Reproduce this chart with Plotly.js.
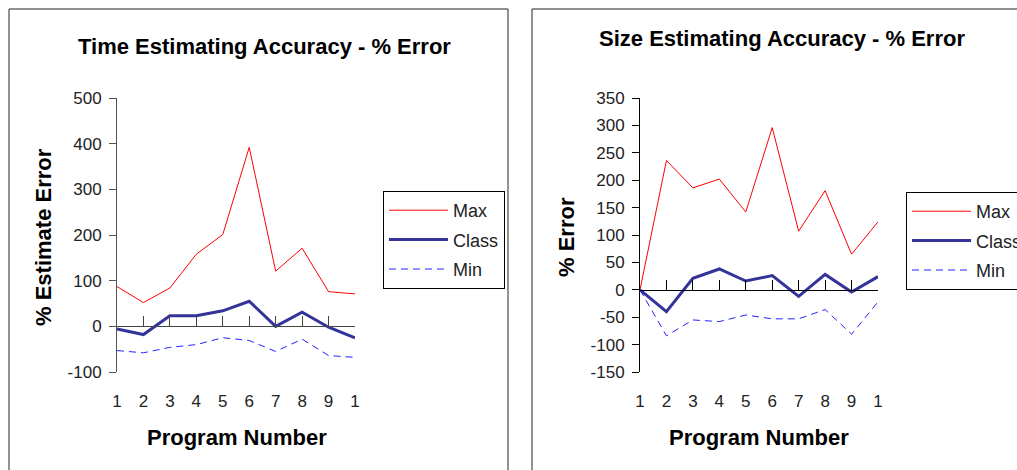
<!DOCTYPE html>
<html>
<head>
<meta charset="utf-8">
<script src="https://cdn.plot.ly/plotly-3.0.1.min.js"></script>
<style>html,body{margin:0;padding:0;background:#fff;}#chart{width:1017px;height:470px;}</style>
</head>
<body>
<div id="chart"></div>
<script>
// ---- data ----
const programs = [1, 2, 3, 4, 5, 6, 7, 8, 9, 10];
const programLabels = ['1', '2', '3', '4', '5', '6', '7', '8', '9', '1'];

const timeMax   = [87, 52, 84, 158, 201, 392, 121, 171, 76, 71];
const timeClass = [-6, -18, 23, 23, 34, 55, 0, 31, -2, -25];
const timeMin   = [-53, -58, -46, -40, -25, -31, -55, -28, -64, -68];

const sizeMax   = [0, 236, 186, 202, 142, 296, 107, 181, 65, 124];
const sizeClass = [0, -40, 21, 38, 16, 26, -12, 28, -4, 24];
const sizeMin   = [0, -84, -55, -58, -46, -53, -53, -36, -81, -22];

const seriesNames = ['Max', 'Class', 'Min'];
const timeTitle = 'Time Estimating Accuracy - % Error';
const sizeTitle = 'Size Estimating Accuracy - % Error';
const xTitle = 'Program Number';
const timeYTitle = '% Estimate Error';
const sizeYTitle = '% Error';
const timeTicks = [-100, 0, 100, 200, 300, 400, 500];
const sizeTicks = [-150, -100, -50, 0, 50, 100, 150, 200, 250, 300, 350];

// ---- styles ----
const W = 1017, H = 470;
const px = v => v / W;
const py = v => 1 - v / H;
const FONT = 'Liberation Sans, Arial, sans-serif';
const styles = [
  {color: '#ff0000', width: 1, dash: 'solid'},
  {color: '#333399', width: 3, dash: 'solid'},
  {color: '#2222ff', width: 1, dash: '7px,5px'}
];

function mk(yv, i, xa, ya, leg) {
  return {
    x: programs, y: yv, name: seriesNames[i], type: 'scatter', mode: 'lines',
    line: styles[i], xaxis: xa, yaxis: ya, legend: leg, legendgroup: leg + i,
    hoverinfo: 'skip'
  };
}
// invisible helper traces so the zero-line category axes get drawn
function helper(xa, ya) {
  return {
    x: programs, y: programs.map(() => null), type: 'scatter', mode: 'lines',
    xaxis: xa, yaxis: ya, showlegend: false, hoverinfo: 'skip'
  };
}

const data = [
  mk(timeMax, 0, 'x', 'y', 'legend'),
  mk(timeClass, 1, 'x', 'y', 'legend'),
  mk(timeMin, 2, 'x', 'y', 'legend'),
  mk(sizeMax, 0, 'x2', 'y2', 'legend2'),
  mk(sizeClass, 1, 'x2', 'y2', 'legend2'),
  mk(sizeMin, 2, 'x2', 'y2', 'legend2'),
  helper('x3', 'y'),
  helper('x4', 'y2')
];

const yDom = [py(372), py(98)];
const lDom = [px(117), px(355)];
const rDom = [px(640), px(878)];

function bottomX(dom, anchor) {
  return {
    domain: dom, anchor: anchor, range: [1, 10], showgrid: false, zeroline: false,
    showline: false, ticks: '', tickmode: 'array', tickvals: programs, ticktext: programLabels,
    ticklabelstandoff: 17, tickfont: {family: FONT, size: 17, color: '#222'}, fixedrange: true
  };
}
function zeroX(over, dom, pos, col) {
  return {
    overlaying: over, domain: dom, anchor: 'free', position: pos, range: [1, 10],
    showgrid: false, zeroline: false, showline: true, linecolor: col, linewidth: 1,
    ticks: 'inside', ticklen: 10, tickcolor: col, tickwidth: 1,
    tickmode: 'array', tickvals: programs, showticklabels: false, fixedrange: true
  };
}
function leftY(dom, anchor, rng, tv, col) {
  return {
    domain: dom, anchor: anchor, range: rng, showgrid: false, zeroline: false,
    showline: true, linecolor: col, linewidth: 1, ticks: 'outside', ticklen: 7,
    tickcolor: col, tickmode: 'array', tickvals: tv, ticktext: tv.map(String),
    ticklabelstandoff: 4,
    tickfont: {family: FONT, size: 17, color: '#222'}, fixedrange: true
  };
}

const legendBase = {
  bgcolor: '#fff', bordercolor: '#000', borderwidth: 1,
  font: {family: FONT, size: 18, color: '#222'},
  xanchor: 'left', yanchor: 'top', itemwidth: 59, tracegroupgap: 3,
  traceorder: 'grouped'
};

const ann = (text, x, y, size, bold, angle) => ({
  text: bold ? '<b>' + text + '</b>' : text, xref: 'paper', yref: 'paper',
  x: px(x), y: py(y), xanchor: 'center', yanchor: 'middle', showarrow: false,
  textangle: angle || 0, font: {family: FONT, size: size, color: '#000'}
});

const layout = {
  width: W, height: H, margin: {l: 0, r: 0, t: 0, b: 0, autoexpand: false},
  paper_bgcolor: '#fff', plot_bgcolor: 'rgba(0,0,0,0)', showlegend: true,
  xaxis: bottomX(lDom, 'y'),
  yaxis: leftY(yDom, 'x', [-100, 500], timeTicks, '#555'),
  xaxis2: bottomX(rDom, 'y2'),
  yaxis2: leftY(yDom, 'x2', [-150, 350], sizeTicks, '#000'),
  xaxis3: zeroX('x', lDom, py(326), '#444'),
  xaxis4: zeroX('x2', rDom, py(289.7), '#000'),
  legend: Object.assign({}, legendBase, {x: px(383), y: py(191)}),
  legend2: Object.assign({}, legendBase, {x: px(906), y: py(192)}),
  annotations: [
    ann(timeTitle, 264.5, 46, 22, true),
    ann(sizeTitle, 781.5, 39, 22, true),
    ann(xTitle, 237, 437, 22, true),
    ann(xTitle, 759, 437, 22, true),
    ann(timeYTitle, 43, 237, 22, true, -90),
    ann(sizeYTitle, 566, 237, 22, true, -90)
  ],
  shapes: [
    {type: 'rect', xref: 'paper', yref: 'paper', x0: px(9), x1: px(508), y0: -0.05, y1: py(9),
     line: {color: '#222', width: 1}, layer: 'below'},
    {type: 'rect', xref: 'paper', yref: 'paper', x0: px(532), x1: 1.05, y0: -0.05, y1: py(9),
     line: {color: '#222', width: 1}, layer: 'below'}
  ]
};

Plotly.newPlot('chart', data, layout, {displayModeBar: false, staticPlot: true});
</script>
</body>
</html>
